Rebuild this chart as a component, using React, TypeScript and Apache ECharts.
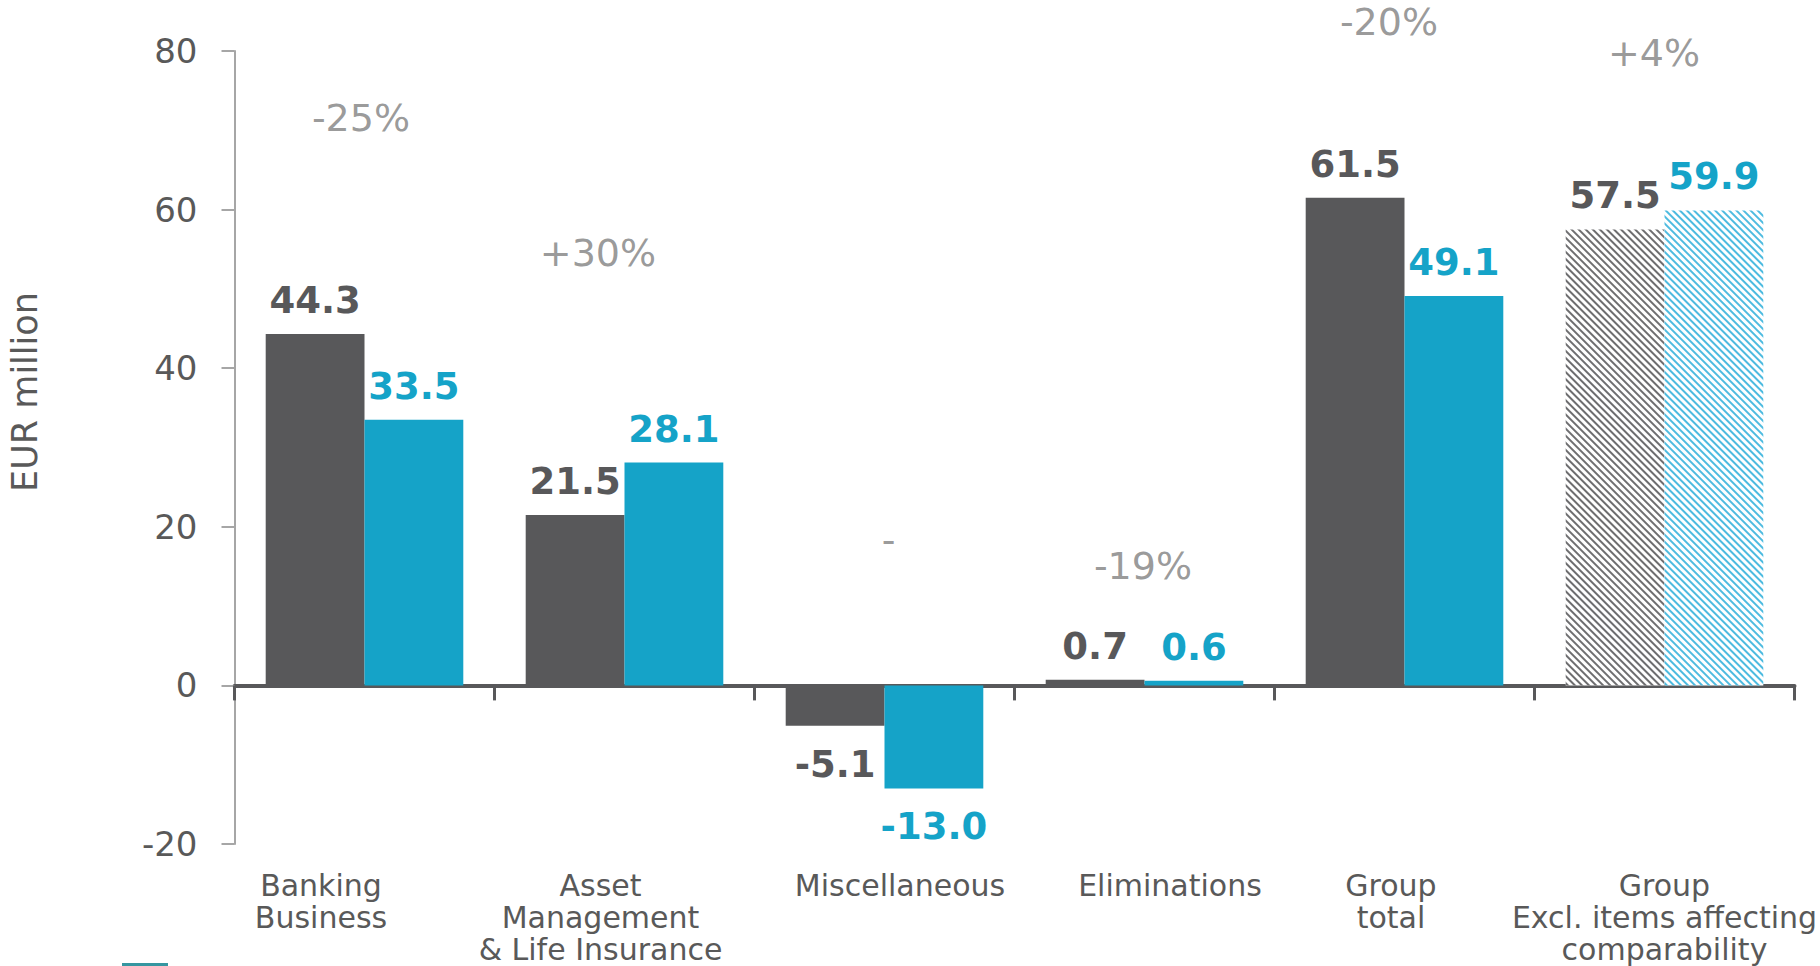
import React, { useEffect, useRef } from "react";
import * as echarts from "echarts";

// ---- data ----
const categories = [
  "Banking\nBusiness",
  "Asset\nManagement\n& Life Insurance",
  "Miscellaneous",
  "Eliminations",
  "Group\ntotal",
  "Group\nExcl. items affecting\ncomparability",
];
const seriesNames = ["1-12/2016", "1-12/2017"];
const values2016 = [44.3, 21.5, -5.1, 0.7, 61.5, 57.5];
const values2017 = [33.5, 28.1, -13.0, 0.6, 49.1, 59.9];
const changeLabels = ["-25%", "+30%", "-", "-19%", "-20%", "+4%"];
// vertical anchor (in axis units) of each change annotation
const changeLabelLevels = [71.6, 54.5, 18.3, 15.0, 83.7, 79.7];
const yMin = -20;
const yMax = 80;
const yInterval = 20;
// index of the bar pair drawn hatched
const hatchedIndex = 5;

// ---- layout / style ----
const FONT = "'DejaVu Sans', Verdana, sans-serif";
const DARK = "#58585a";
const BLUE = "#15a3c8";
const TEXT = "#595959";
const categoryLabelShift = [-43.5, -24, 15.5, 25.5, -13.5, 0];
const changeLabelShift = [-3.5, -26.5, 4, -1.5, -15.5, -10.5];

function barData(values: number[], hatchColor: string) {
  return values.map((v, i) => {
    const item: any = {
      value: v,
      label: { position: v < 0 ? "bottom" : "top", distance: v < 0 ? 20 : 15 },
    };
    if (i === hatchedIndex) {
      item.itemStyle = {
        color: "#ffffff",
        decal: {
          symbol: "rect",
          symbolSize: 1,
          dashArrayX: [1, 0],
          dashArrayY: [2, 2.5],
          rotation: Math.PI / 4,
          color: hatchColor,
          backgroundColor: "transparent",
        },
      };
    }
    return item;
  });
}

export default function App() {
  const ref = useRef<HTMLDivElement>(null);

  useEffect(() => {
    document.body.style.margin = "0";
    if (!ref.current) return;
    const chart = echarts.init(ref.current, null, { renderer: "svg" });

    const xData = categories.map((c, i) => {
      const dx = categoryLabelShift[i];
      return {
        value: c,
        textStyle: {
          padding: dx < 0 ? [0, -2 * dx, 0, 0] : [0, 0, 0, 2 * dx],
        },
      };
    });

    const barLabel = (color: string) => ({
      show: true,
      color,
      fontFamily: FONT,
      fontWeight: "bold",
      fontSize: 37,
      formatter: (p: any) => Number(p.value).toFixed(1),
    });

    chart.setOption({
      animation: false,
      textStyle: { fontFamily: FONT },
      grid: {
        left: 234.5,
        right: 25.5,
        top: 51,
        bottom: 122,
        containLabel: false,
        outerBoundsMode: "none",
      },
      legend: {
        orient: "vertical",
        left: 122,
        top: 963,
        padding: 0,
        icon: "rect",
        itemWidth: 46,
        itemHeight: 30,
        itemGap: 10,
        data: [{ name: seriesNames[1], itemStyle: { color: "#3596a0" } }],
        textStyle: {
          fontFamily: FONT,
          fontSize: 30,
          lineHeight: 30,
          color: TEXT,
          padding: [0, 0, 0, 19],
        },
      },
      xAxis: {
        type: "category",
        data: xData,
        axisLine: { show: true, onZero: true, lineStyle: { color: DARK, width: 4 } },
        axisTick: { show: true, length: 15, lineStyle: { color: DARK, width: 3 } },
        axisLabel: {
          margin: 25,
          color: TEXT,
          fontFamily: FONT,
          fontSize: 30,
          lineHeight: 32,
          interval: 0,
          align: "center",
          verticalAlign: "top",
        },
        splitLine: { show: false },
      },
      yAxis: {
        type: "value",
        min: yMin,
        max: yMax,
        interval: yInterval,
        axisLine: { show: true, lineStyle: { color: "#a6a6a6", width: 2 } },
        axisTick: { show: true, length: 13, lineStyle: { color: "#a6a6a6", width: 2 } },
        axisLabel: { margin: 37, color: TEXT, fontFamily: FONT, fontSize: 34 },
        splitLine: { show: false },
      },
      graphic: [
        {
          type: "text",
          x: 25,
          y: 392,
          rotation: Math.PI / 2,
          style: {
            text: "EUR million",
            fill: TEXT,
            font: `35px ${FONT}`,
            textAlign: "center",
            textVerticalAlign: "middle",
          },
        },
      ],
      series: [
        {
          name: seriesNames[0],
          type: "bar",
          barWidth: "38%",
          barGap: "0%",
          itemStyle: { color: DARK },
          label: barLabel(DARK),
          data: barData(values2016, "#6e6e70"),
          z: 1,
        },
        {
          name: seriesNames[1],
          type: "bar",
          barWidth: "38%",
          barGap: "0%",
          itemStyle: { color: BLUE },
          label: barLabel(BLUE),
          data: barData(values2017, "#4dbbe0"),
          z: 1,
        },
        {
          name: "change",
          type: "scatter",
          clip: false,
          symbolSize: 0,
          silent: true,
          data: changeLabels.map((t, i) => ({
            value: [i, changeLabelLevels[i]],
            label: { offset: [changeLabelShift[i], 0] },
          })),
          label: {
            show: true,
            position: "inside",
            color: "#808080",
            fontFamily: FONT,
            fontSize: 38,
            formatter: (p: any) => changeLabels[p.dataIndex],
          },
          z: 5,
        },
      ],
    });

    return () => chart.dispose();
  }, []);

  return <div ref={ref} style={{ width: 1820, height: 966 }} />;
}
